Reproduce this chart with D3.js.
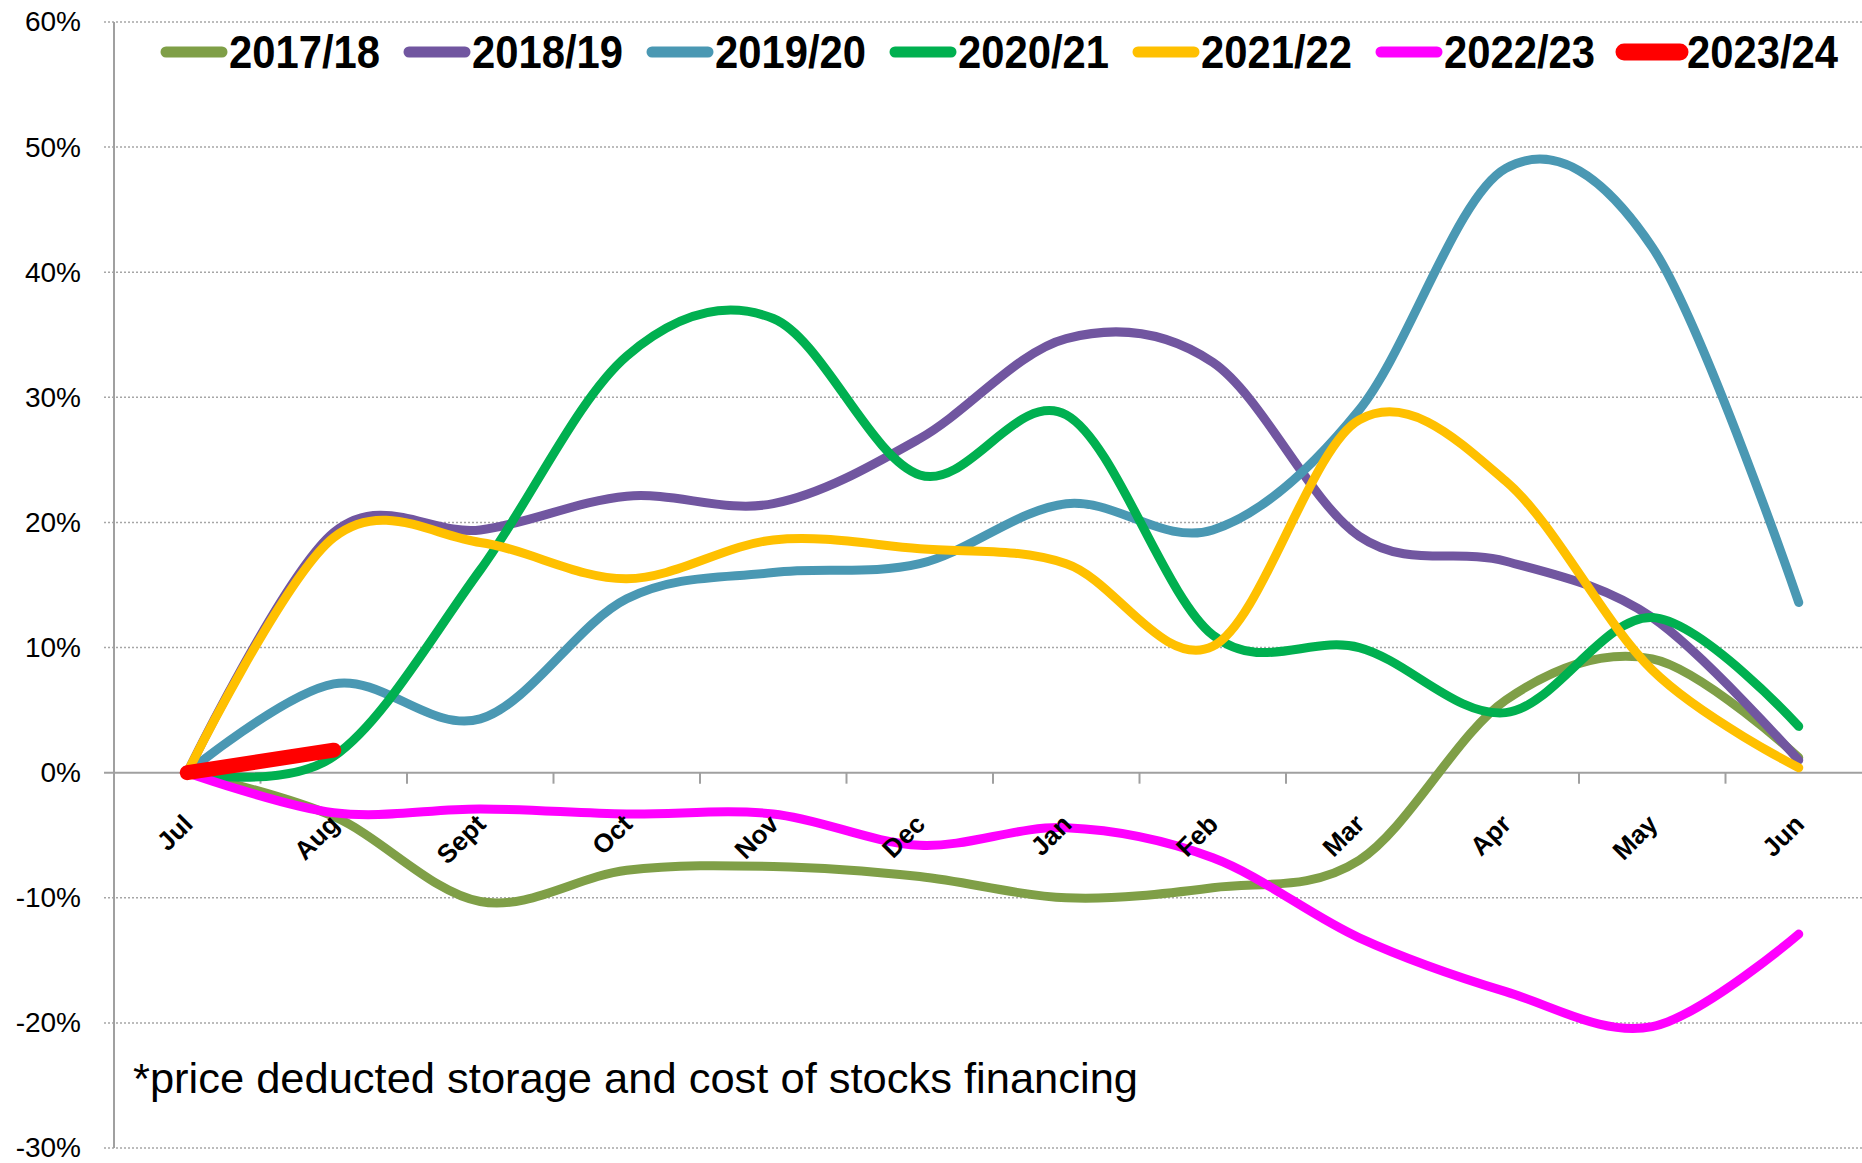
<!DOCTYPE html>
<html>
<head>
<meta charset="utf-8">
<script src="https://cdn.jsdelivr.net/npm/d3@7"></script>
<style>
  html, body { margin: 0; padding: 0; background: #fff; }
  svg { display: block; }
</style>
</head>
<body>
<svg id="chart" width="1862" height="1163"></svg>
<script>
// ---- data ----
const months = ["Jul","Aug","Sept","Oct","Nov","Dec","Jan","Feb","Mar","Apr","May","Jun"];
const seasons = ["2017/18","2018/19","2019/20","2020/21","2021/22","2022/23","2023/24"];
const yTicks = [-30,-20,-10,0,10,20,30,40,50,60];
const v2017_18 = [0,-3.5,-10.3,-7.8,-7.5,-8.3,-10.0,-9.2,-7.0,5.8,9.1,1.2];
const v2018_19 = [0,19.2,19.4,22.1,21.5,26.7,34.7,32.8,18.9,16.9,12.4,1.0];
const v2019_20 = [0,7.1,4.3,13.9,16.0,16.7,21.5,19.4,29.0,48.3,42.0,13.6];
const v2020_21 = [0,1.3,16.2,33.3,36.3,23.8,28.6,11.0,10.0,4.8,12.4,3.7];
const v2021_22 = [0,18.8,18.4,15.5,18.6,17.9,16.7,10.1,28.2,23.3,8.2,0.4];
const v2022_23 = [0,-3.2,-2.9,-3.3,-3.3,-5.8,-4.4,-6.8,-13.2,-17.5,-20.3,-12.9];
const v2023_24 = [0,1.8];
const footnote = "*price deducted storage and cost of stocks financing";

// ---- styles ----
const colors = ["#7f9f47","#7156a0","#4a98b3","#00b050","#ffc000","#ff00ff","#ff0000"];
const widths = [9,9,9,9,9,9,15];

const seriesValues = [v2017_18,v2018_19,v2019_20,v2020_21,v2021_22,v2022_23,v2023_24];
const series = seasons.map((s,i)=>({name:s, values:seriesValues[i], color:colors[i], width:widths[i]}));

const svg = d3.select("#chart");
const pLeft = 114, pRight = 1872, pTop = 22, pBottom = 1148;

const x = d3.scaleBand().domain(months).range([pLeft, pRight]).padding(0);
const cx = m => x(m) + x.bandwidth()/2;
const y = d3.scaleLinear().domain([-30, 60]).range([pBottom, pTop]);

// gridlines (dotted)
svg.append("g").selectAll("line").data(yTicks.filter(t=>t!==0)).join("line")
  .attr("x1", pLeft - 10).attr("x2", pRight)
  .attr("y1", d=>y(d)).attr("y2", d=>y(d))
  .attr("stroke", "#a6a6a6").attr("stroke-width", 1.5).attr("stroke-dasharray", "2,2");

// y axis
const yAxis = d3.axisLeft(y).tickValues(yTicks).tickFormat(d=>d+"%").tickSize(0).tickPadding(33);
const gy = svg.append("g").attr("transform", `translate(${pLeft},0)`).call(yAxis);
gy.select(".domain").attr("stroke", "#a0a0a0").attr("stroke-width", 2).attr("d", `M0,${y(60)}V${y(-30)}`);
gy.selectAll(".tick text").attr("fill", "#000")
  .style("font-family", "'Liberation Sans', Arial, sans-serif").style("font-size", "28px");

// x axis line at 0
svg.append("line").attr("x1", pLeft - 10).attr("x2", pRight).attr("y1", y(0)).attr("y2", y(0))
  .attr("stroke", "#a0a0a0").attr("stroke-width", 2);
// boundary ticks
svg.append("g").selectAll("line").data(months.slice(1)).join("line")
  .attr("x1", d=>x(d)).attr("x2", d=>x(d))
  .attr("y1", y(0)).attr("y2", y(0)+11)
  .attr("stroke", "#a0a0a0").attr("stroke-width", 2);

// lines
const line = d3.line().x((d,i)=>cx(months[i])).y(d=>y(d)).curve(d3.curveCardinal.tension(0));
svg.append("g").selectAll("path").data(series).join("path")
  .attr("d", d=>line(d.values))
  .attr("fill", "none")
  .attr("stroke", d=>d.color)
  .attr("stroke-width", d=>d.width)
  .attr("stroke-linecap", "round").attr("stroke-linejoin", "round");

// x labels (on top of lines)
svg.append("g").selectAll("text").data(months).join("text")
  .attr("transform", d=>`translate(${cx(d)+7},${y(0)+53}) rotate(-45)`)
  .attr("text-anchor", "end")
  .style("font-family", "'Liberation Sans', Arial, sans-serif")
  .style("font-weight", "bold").style("font-size", "26px")
  .text(d=>d);

// legend
const legX0 = 164, legStep = 243, legY = 52;
const leg = svg.append("g").selectAll("g").data(series).join("g")
  .attr("transform", (d,i)=>`translate(${legX0 + i*legStep},${legY})`);
leg.append("line").attr("x1", 2).attr("x2", 58).attr("y1", 0).attr("y2", 0)
  .attr("stroke", d=>d.color).attr("stroke-width", (d,i)=> i===6 ? 17 : 11)
  .attr("stroke-linecap", "round");
leg.append("text").attr("x", 65).attr("y", 16)
  .attr("textLength", 151).attr("lengthAdjust", "spacingAndGlyphs")
  .style("font-family", "'Liberation Sans Narrow', 'Liberation Sans', Arial, sans-serif")
  .style("font-weight", "bold").style("font-size", "46px")
  .text(d=>d.name);

// footnote
svg.append("text").attr("x", 133).attr("y", 1093)
  .attr("textLength", 1005).attr("lengthAdjust", "spacingAndGlyphs")
  .style("font-family", "'Liberation Sans', Arial, sans-serif")
  .style("font-size", "42px")
  .text(footnote);
</script>
</body>
</html>
